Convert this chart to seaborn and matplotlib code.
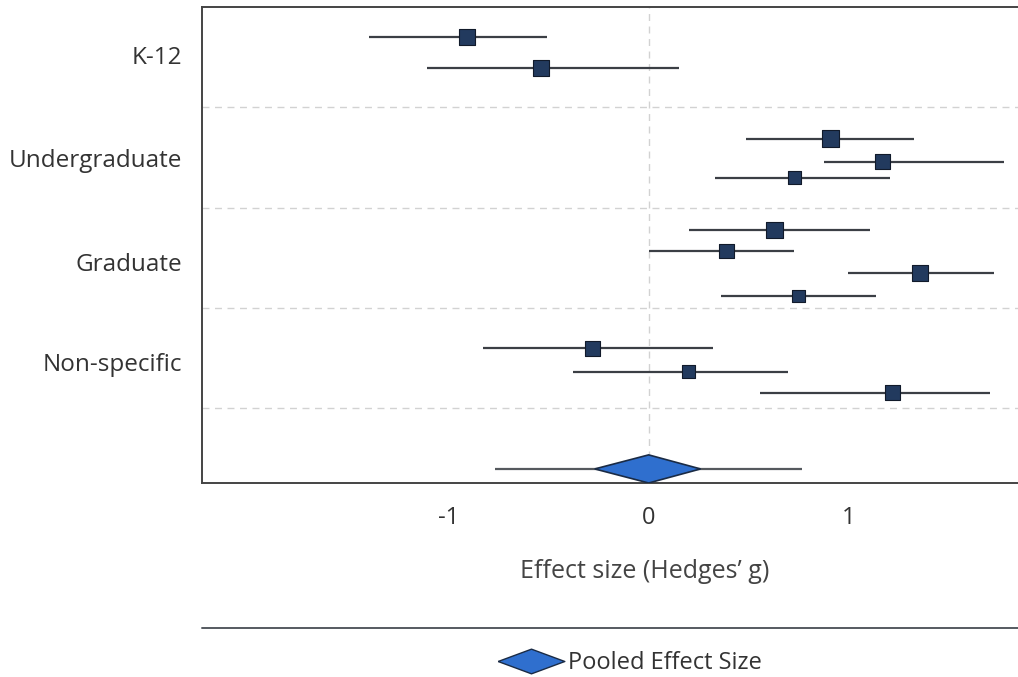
import numpy as np
import pandas as pd
import seaborn as sns
import matplotlib.pyplot as plt
from matplotlib.lines import Line2D

# study-level effect sizes (Hedges' g)
groups = ["K-12", "K-12",
          "Undergraduate", "Undergraduate", "Undergraduate",
          "Graduate", "Graduate", "Graduate", "Graduate",
          "Non-specific", "Non-specific", "Non-specific"]
effect = [-0.91, -0.54, 0.91, 1.17, 0.73, 0.63, 0.39, 1.36, 0.75, -0.28, 0.20, 1.22]
ci_low = [-1.40, -1.11, 0.49, 0.88, 0.33, 0.20, 0.00, 1.00, 0.36, -0.83, -0.38, 0.56]
ci_high = [-0.51, 0.15, 1.33, 1.78, 1.21, 1.11, 0.73, 1.73, 1.14, 0.32, 0.70, 1.71]
weight = [15, 15, 16, 15, 13, 16, 14, 15, 12, 14, 13, 14]
study_y = [0.30, 0.61, 1.31, 1.54, 1.70, 2.22, 2.43, 2.65, 2.88, 3.40, 3.63, 3.84]

group_names = ["K-12", "Undergraduate", "Graduate", "Non-specific"]
group_y = [0.48, 1.50, 2.54, 3.54]
separators = [1.0, 2.0, 3.0, 3.99]

pooled_est = 0.0
pooled_ci = [-0.27, 0.26]
pooled_pi = [-0.77, 0.77]
pooled_y = 4.60

df = pd.DataFrame({"group": groups, "g": effect, "lo": ci_low, "hi": ci_high,
                   "w": weight, "y": study_y})

sns.set_theme(style="white")
plt.rcParams["font.family"] = ["Open Sans", "DejaVu Sans"]

fig = plt.figure(figsize=(10.18, 6.77), dpi=100)
ax = fig.add_axes([202 / 1018, 1 - 483 / 677, 1 - 202 / 1018 + 0.002, (483 - 7) / 677])

line_col = "#3b3f45"
navy = "#223a5e"
txt = "#333333"

# reference lines
ax.axvline(0, color="#d2d2d2", lw=1, ls=(0, (5, 4)), zorder=0)
for s in separators:
    ax.axhline(s, color="#d2d2d2", lw=1, ls=(0, (5, 4)), zorder=0)

# confidence intervals
ax.hlines(df["y"], df["lo"], df["hi"], color=line_col, lw=1.6, zorder=2)

# study estimates, square size by weight
sns.scatterplot(data=df, x="g", y="y", size="w", sizes=(80, 140), marker="s",
                color=navy, edgecolor="#111a2a", linewidth=0.8, legend=False,
                zorder=3, ax=ax)

# pooled effect: prediction interval line and diamond
ax.hlines(pooled_y, pooled_pi[0], pooled_pi[1], color="#55595e", lw=1.6, zorder=2)
dh = 0.14
ax.fill([pooled_ci[0], pooled_est, pooled_ci[1], pooled_est],
        [pooled_y, pooled_y - dh, pooled_y, pooled_y + dh],
        facecolor="#2f6fce", edgecolor="#1a2b45", lw=1.2, zorder=4)

ax.set_xlim(-2.237, 1.86)
ax.set_ylim(4.74, 0)
ax.set_xticks([-1, 0, 1])
ax.set_xticklabels(["-1", "0", "1"], fontsize=17, color=txt)
ax.set_yticks(group_y)
ax.set_yticklabels(group_names, fontsize=17.5, color=txt)
ax.tick_params(axis="x", direction="inout", length=9, width=1.2, color="#333333", pad=12)
ax.tick_params(axis="y", length=0, pad=14)
ax.set_xlabel("Effect size (Hedges\u2019 g)", fontsize=18, color="#444444")
ax.xaxis.label.set_va("center")
ax.xaxis.set_label_coords(0.5416, -0.185)
ax.set_ylabel("")

for side in ["left", "bottom", "top"]:
    ax.spines[side].set_color("#444444")
    ax.spines[side].set_linewidth(1.4)
ax.spines["right"].set_visible(False)

# legend area below plot
fig.add_artist(Line2D([202 / 1018, 1.0], [1 - 628 / 677, 1 - 628 / 677],
                      color="#555a60", lw=1.4, transform=fig.transFigure))
diamond = [(-1, 0), (0, 0.37), (1, 0), (0, -0.37), (-1, 0)]
handle = Line2D([], [], ls="none", marker=diamond, markersize=48,
                markerfacecolor="#2f6fce", markeredgecolor="#1a2b45", markeredgewidth=1)
fig.legend([handle], ["Pooled Effect Size"], loc="center",
           bbox_to_anchor=(631 / 1018, 1 - 663 / 677), frameon=False,
           fontsize=17, handlelength=2.6, handletextpad=0.3, labelcolor=txt)

fig.savefig("out.png", dpi=100, facecolor="white")
